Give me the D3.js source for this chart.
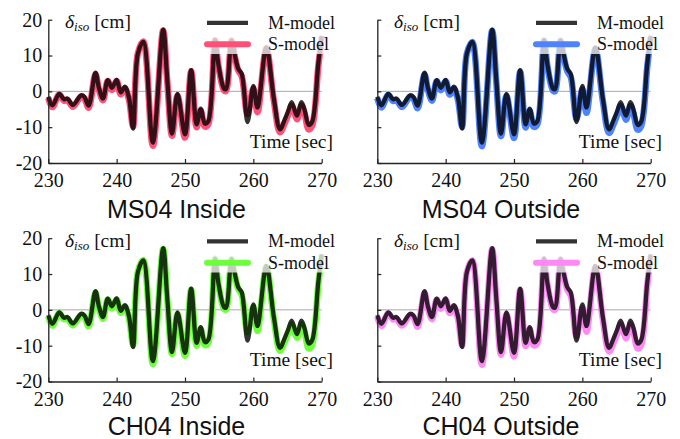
<!DOCTYPE html>
<html>
<head>
<meta charset="utf-8">
<script src="https://cdn.jsdelivr.net/npm/d3@7/dist/d3.min.js"></script>
<style>
  html, body { margin: 0; padding: 0; background: #fff; }
  svg { display: block; }
</style>
</head>
<body>
<svg id="chart" width="680" height="439"></svg>
<script>
// Time knots [sec] shared by every trace
const timeKnots = [230, 230.6, 231.6, 232.3, 232.8, 233.6, 234.8, 235.3, 235.9, 236.9,
  237.4, 238.0, 238.7, 239.3, 240.0, 240.6, 241.2, 241.8, 242.4, 243.1,
  243.9, 245.3, 246.8, 247.4, 248.1, 248.9, 250.0, 250.9, 251.7, 252.3,
  252.9, 253.4, 254.4, 254.9, 255.7, 256.0, 256.8, 257.3, 257.8, 258.3,
  259.15, 260.0, 260.6, 261.9, 263.0, 263.9, 264.6, 265.1, 265.6, 266.1,
  266.4, 267.05, 267.5, 268.1, 268.6, 269.5, 270];

// Isolator displacement δiso [cm], M-model
const mModel = [-1.5, -3.9, -0.7, -2.2, -2.0, -3.8, -1.1, -1.6, -4.0, 5.2,
  1.0, -2.0, 3.1, 1.0, 3.2, -0.3, 1.3, -1.8, -10.4, 10.5,
  13.8, -14.3, 17.2, 3.5, -11.8, -0.7, -12.0, 5.9, -9.2, -4.8,
  -9.0, -8.4, 14.3, 7.3, 0.8, 0.6, 14.2, 10.0, 6.3, 4.9,
  -8.6, 1.5, -4.5, 12.3, -2.0, -10.6, -7.8, -5.5, -3.0, -5.6,
  -6.8, -3.0, -5.2, -9.4, -8.5, 7.7, 15.5];

// S-model, per case
const sMS04Inside = [-1.8, -4.4, -0.9, -2.6, -2.4, -4.3, -1.4, -2.0, -4.6, 4.8,
  0.6, -2.5, 2.9, 0.4, 2.9, -0.8, 0.8, -2.3, -9.8, 10.6,
  13.9, -15.2, 17.0, 3.0, -12.4, -1.2, -12.9, 5.6, -10.0, -5.4,
  -9.8, -9.2, 14.3, 7.0, 0.3, 0.1, 14.2, 9.6, 5.8, 4.2,
  -6.4, 0.8, -5.8, 12.0, -2.6, -11.4, -8.8, -6.5, -4.0, -6.5,
  -7.8, -4.0, -6.2, -10.6, -9.6, 7.0, 15.2];
const sMS04Outside = [-1.9, -4.5, -1.0, -2.7, -2.5, -4.4, -1.5, -2.1, -4.7, 4.7,
  0.5, -2.6, 2.8, 0.3, 2.8, -0.9, 0.7, -2.4, -9.9, 10.5,
  13.8, -15.3, 16.9, 2.9, -12.5, -1.3, -13.0, 5.5, -10.1, -5.5,
  -9.9, -9.3, 14.2, 6.9, 0.2, 0.0, 14.1, 9.5, 5.6, 4.0,
  -7.6, 0.6, -6.0, 11.9, -2.7, -11.6, -9.0, -6.6, -4.1, -6.6,
  -7.9, -4.1, -6.3, -10.7, -9.7, 6.9, 15.1];
const sCH04Inside = [-1.8, -4.4, -0.9, -2.6, -2.4, -4.3, -1.4, -2.0, -4.6, 4.8,
  0.6, -2.5, 2.9, 0.4, 2.9, -0.8, 0.8, -2.3, -9.8, 10.6,
  13.9, -15.1, 17.0, 3.0, -12.3, -1.2, -12.8, 5.6, -10.0, -5.4,
  -9.8, -9.2, 14.3, 7.0, 0.3, 0.1, 14.2, 9.6, 5.8, 4.2,
  -6.2, 0.8, -5.9, 12.0, -2.6, -11.4, -8.8, -6.5, -4.0, -6.5,
  -7.8, -4.0, -6.2, -10.8, -9.7, 7.0, 15.2];
const sCH04Outside = [-1.9, -4.5, -1.0, -2.7, -2.5, -4.4, -1.5, -2.1, -4.7, 4.7,
  0.5, -2.6, 2.8, 0.3, 2.8, -0.9, 0.7, -2.4, -9.9, 10.5,
  13.8, -15.3, 16.9, 2.9, -12.5, -1.3, -13.0, 5.5, -10.1, -5.5,
  -9.9, -9.3, 14.2, 6.9, 0.2, 0.0, 14.1, 9.5, 5.6, 4.0,
  -7.4, 0.6, -6.1, 11.9, -2.7, -11.6, -9.0, -6.6, -4.1, -6.6,
  -7.9, -4.1, -6.3, -10.8, -9.8, 6.9, 15.1];

const xTicks = [230, 240, 250, 260, 270];
const yTicks = [-20, -10, 0, 10, 20];
const panelTitles = ["MS04 Inside", "MS04 Outside", "CH04 Inside", "CH04 Outside"];
const sSeries = [sMS04Inside, sMS04Outside, sCH04Inside, sCH04Outside];
const sColors = ["#ff5078", "#4f82ff", "#6cff3c", "#ff88f4"];
const legendNames = ["M-model", "S-model"];

const SERIF = '"Liberation Serif", "Times New Roman", serif';
const SANS = '"Liberation Sans", Arial, sans-serif';

const svg = d3.select("#chart");

const x = d3.scaleLinear().domain([230, 270]).range([48.3, 321.7]);
const y = d3.scaleLinear().domain([-20, 20]).range([163, 19.7]);

const line = d3.line()
  .x(d => x(d[0]))
  .y(d => y(d[1]))
  .curve(d3.curveCatmullRom.alpha(0.5));

const colStep = 329, rowStep = 218.5;

panelTitles.forEach((title, i) => {
  const col = i % 2, row = Math.floor(i / 2);
  const g = svg.append("g").attr("transform", `translate(${col * colStep},${row * rowStep})`);

  // zero reference line
  g.append("line")
    .attr("x1", x(230)).attr("x2", x(270))
    .attr("y1", y(0)).attr("y2", y(0))
    .attr("stroke", "#a8a8a8").attr("stroke-width", 1);

  const sPts = timeKnots.map((t, k) => [t, sSeries[i][k]]);
  const mPts = timeKnots.map((t, k) => [t, mModel[k]]);

  g.append("path").attr("d", line(sPts))
    .attr("fill", "none").attr("stroke", sColors[i])
    .attr("stroke-width", 6.5).attr("stroke-linejoin", "round");
  g.append("path").attr("d", line(mPts))
    .attr("fill", "none").attr("stroke", "#000").attr("stroke-opacity", 0.8)
    .attr("stroke-width", 4.3).attr("stroke-linejoin", "round");

  // axes with inward ticks
  const yAxis = d3.axisLeft(y).tickValues(yTicks).tickSize(-4).tickSizeOuter(0).tickPadding(6)
    .tickFormat(col === 0 ? (d => String(d)) : (() => ""));
  const xAxis = d3.axisBottom(x).tickValues(xTicks).tickSize(-4).tickSizeOuter(0).tickPadding(10)
    .tickFormat(d => String(d));

  const ya = g.append("g").attr("transform", `translate(${x(230)},0)`).call(yAxis);
  const xa = g.append("g").attr("transform", `translate(0,${y(-20)})`).call(xAxis);
  [ya, xa].forEach(a => {
    a.attr("font-family", null).attr("font-size", null);
    a.select(".domain").attr("stroke", "#222").attr("stroke-width", 1.3);
    a.selectAll(".tick line").attr("stroke", "#222").attr("stroke-width", 1.2);
    a.selectAll(".tick text")
      .style("font-family", SERIF).style("font-size", "20px").attr("fill", "#111");
  });

  // legend with translucent backing
  g.append("rect")
    .attr("x", 202).attr("y", 8).attr("width", 136).attr("height", 46)
    .attr("fill", "#fff").attr("fill-opacity", 0.75);
  const legY = [22.9, 44.3];
  g.append("line").attr("x1", 207).attr("x2", 248).attr("y1", legY[0]).attr("y2", legY[0])
    .attr("stroke", "#000").attr("stroke-opacity", 0.8).attr("stroke-width", 4.3);
  g.append("line").attr("x1", 207).attr("x2", 248).attr("y1", legY[1]).attr("y2", legY[1])
    .attr("stroke", sColors[i]).attr("stroke-width", 6).attr("stroke-linecap", "round");
  legendNames.forEach((n, k) => {
    g.append("text").attr("x", 268).attr("y", legY[k] + 5.8)
      .style("font-family", SERIF).style("font-size", "18px").attr("fill", "#111").text(n);
  });

  // axis captions
  const yl = g.append("text").attr("x", 65).attr("y", 28)
    .style("font-family", SERIF).style("font-size", "19.5px").attr("fill", "#111");
  yl.append("tspan").attr("font-style", "italic").text("δ");
  yl.append("tspan").attr("font-style", "italic").style("font-size", "13px").attr("dy", 3).text("iso");
  yl.append("tspan").attr("dy", -3).text(" [cm]");

  g.append("text").attr("x", 333).attr("y", 147.5).attr("text-anchor", "end")
    .style("font-family", SERIF).style("font-size", "19.5px").attr("fill", "#111").text("Time [sec]");

  g.append("text").attr("x", col === 0 ? 176.5 : 172)
    .attr("y", row === 0 ? 218 : 216).attr("text-anchor", "middle")
    .style("font-family", SANS).style("font-size", "25px").attr("fill", "#111").text(title);
});
</script>
</body>
</html>
